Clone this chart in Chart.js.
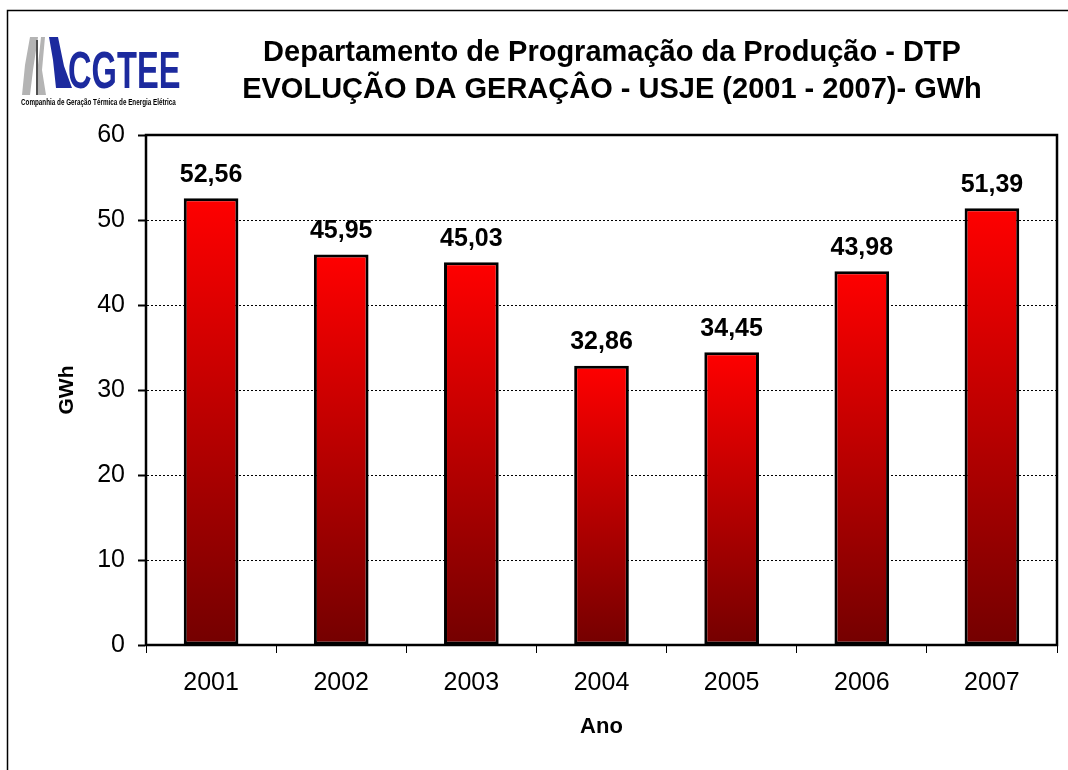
<!DOCTYPE html>
<html>
<head>
<meta charset="utf-8">
<script src="https://cdn.jsdelivr.net/npm/chart.js@4.4.1/dist/chart.umd.min.js"></script>
<style>
  body { margin: 0; background: #fff; }
  canvas { display: block; }
</style>
</head>
<body>
<canvas id="geracaoChart" width="1068" height="770"></canvas>
<script>
// Dados
const anos = ['2001', '2002', '2003', '2004', '2005', '2006', '2007'];
const geracao = [52.56, 45.95, 45.03, 32.86, 34.45, 43.98, 51.39];
const yTicks = [0, 10, 20, 30, 40, 50, 60];
const titulo = [
    'Departamento de Programação da Produção - DTP',
    'EVOLUÇÃO DA GERAÇÂO - USJE (2001 - 2007)- GWh'
];

const FONT = "'Liberation Sans', Arial, sans-serif";

function formatValor(v) {
    return v.toFixed(2).replace('.', ',');
}

// Moldura externa, título e logotipo
const decoracao = {
    id: 'decoracao',
    beforeDraw(chart) {
        const ctx = chart.ctx;
        ctx.save();
        ctx.fillStyle = '#fff';
        ctx.fillRect(0, 0, chart.width, chart.height);
        ctx.strokeStyle = '#000';
        ctx.lineWidth = 1.5;
        ctx.strokeRect(7.5, 10.5, 1200, 900);

        // título
        ctx.fillStyle = '#000';
        ctx.font = 'bold 29px ' + FONT;
        ctx.textAlign = 'center';
        ctx.textBaseline = 'middle';
        ctx.fillText(titulo[0], 612, 53);
        ctx.fillText(titulo[1], 612, 90);

        // logotipo CGTEE (aproximado)
        ctx.fillStyle = '#b4b4b4';
        ctx.beginPath();
        ctx.moveTo(30, 37); ctx.lineTo(38, 37); ctx.lineTo(33, 70); ctx.lineTo(30, 95); ctx.lineTo(22, 95); ctx.lineTo(25, 65);
        ctx.closePath(); ctx.fill();
        ctx.beginPath();
        ctx.moveTo(41, 37); ctx.lineTo(45, 37); ctx.lineTo(42, 70); ctx.lineTo(46, 95); ctx.lineTo(38, 95); ctx.lineTo(38, 65);
        ctx.closePath(); ctx.fill();
        ctx.fillStyle = '#505050';
        ctx.fillRect(36, 40, 2, 55);
        ctx.fillStyle = '#1c2a9e';
        ctx.beginPath();
        ctx.moveTo(49, 37); ctx.lineTo(58, 37); ctx.lineTo(64, 66); ctx.lineTo(72, 88); ctx.lineTo(56, 88); ctx.lineTo(53, 60);
        ctx.closePath(); ctx.fill();
        ctx.save();
        ctx.translate(68, 88);
        ctx.scale(0.64, 1);
        ctx.font = 'bold 51px ' + FONT;
        ctx.textAlign = 'left';
        ctx.textBaseline = 'alphabetic';
        ctx.fillText('CGTEE', 0, 0);
        ctx.restore();
        ctx.save();
        ctx.translate(21, 105);
        ctx.scale(0.70, 1);
        ctx.fillStyle = '#000';
        ctx.font = 'bold 9px ' + FONT;
        ctx.textAlign = 'left';
        ctx.textBaseline = 'alphabetic';
        ctx.fillText('Companhia de Geração Térmica de Energia Elétrica', 0, 0);
        ctx.restore();
        ctx.restore();
    },
    afterDatasetsDraw(chart) {
        const ctx = chart.ctx;
        const meta = chart.getDatasetMeta(0);
        ctx.save();
        ctx.fillStyle = '#000';
        ctx.font = 'bold 25px ' + FONT;
        ctx.textAlign = 'center';
        ctx.textBaseline = 'bottom';
        meta.data.forEach((bar, i) => {
            ctx.fillText(formatValor(geracao[i]), bar.x, bar.y - 11);
        });
        ctx.restore();
    },
    afterDraw(chart) {
        const a = chart.chartArea;
        const ctx = chart.ctx;
        ctx.save();
        ctx.strokeStyle = '#000';
        ctx.lineWidth = 2.5;
        ctx.strokeRect(a.left, a.top, a.right - a.left, a.bottom - a.top);
        ctx.restore();
    }
};

const ctx = document.getElementById('geracaoChart').getContext('2d');

new Chart(ctx, {
    type: 'bar',
    data: {
        labels: anos,
        datasets: [{
            label: 'GWh',
            data: geracao,
            backgroundColor: function(context) {
                const chart = context.chart;
                if (!chart.chartArea || context.type !== 'data') {
                    return '#c00000';
                }
                const y = chart.scales.y;
                const top = y.getPixelForValue(context.parsed.y);
                const base = y.getPixelForValue(0);
                const g = chart.ctx.createLinearGradient(0, top, 0, base);
                g.addColorStop(0, '#ff0000');
                g.addColorStop(1, '#740000');
                return g;
            },
            borderColor: '#000',
            borderWidth: 3,
            borderSkipped: false,
            categoryPercentage: 1,
            barPercentage: 0.42
        }]
    },
    options: {
        responsive: false,
        animation: false,
        layout: {
            padding: { top: 135, left: 55, right: 11, bottom: 30 }
        },
        plugins: {
            legend: { display: false },
            tooltip: { enabled: false }
        },
        scales: {
            x: {
                grid: {
                    display: true,
                    offset: true,
                    drawOnChartArea: false,
                    drawTicks: true,
                    tickLength: 8,
                    color: '#000',
                    lineWidth: 1
                },
                border: { display: true, color: '#000', width: 2 },
                ticks: {
                    color: '#000',
                    padding: 15,
                    font: { family: FONT, size: 25 }
                },
                title: {
                    display: true,
                    text: 'Ano',
                    color: '#000',
                    padding: 0,
                    font: { family: FONT, size: 22, weight: 'bold' }
                },
                afterFit(scale) {
                    scale.height = 95;
                }
            },
            y: {
                min: 0,
                max: 60,
                afterBuildTicks(scale) {
                    scale.ticks = yTicks.map(v => ({ value: v }));
                },
                grid: {
                    color: '#000',
                    lineWidth: 1,
                    tickLength: 8,
                    tickBorderDash: [],
                    tickWidth: 2
                },
                border: { display: true, color: '#000', width: 2, dash: [2, 2] },
                ticks: {
                    color: '#000',
                    padding: 13,
                    font: { family: FONT, size: 25 }
                },
                title: {
                    display: true,
                    text: 'GWh',
                    color: '#000',
                    padding: 0,
                    font: { family: FONT, size: 21, weight: 'bold' }
                },
                afterFit(scale) {
                    scale.width = 91;
                }
            }
        }
    },
    plugins: [decoracao]
});
</script>
</body>
</html>
